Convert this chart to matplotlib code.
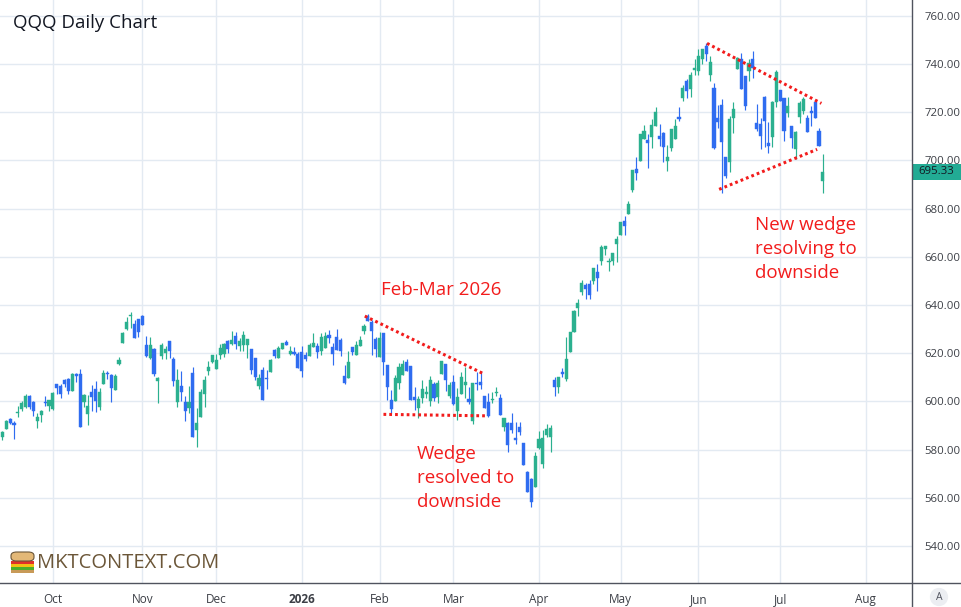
import matplotlib
matplotlib.use('Agg')
import matplotlib.pyplot as plt
import numpy as np
import pandas as pd
from matplotlib.patches import FancyBboxPatch, Rectangle
from matplotlib.lines import Line2D

# QQQ daily candles, Sep 12 2025 .. Jul 17 2026
opens = [585.1, 588.4, 592.8, 591.1, 595.0, 596.9, 597.5, 602.3, 599.7, 592.0,
         594.2, 599.5, 598.2, 596.9, 607.2, 606.3, 608.7, 609.4, 604.5, 611.4,
         611.4, 599.7, 594.9, 604.0, 605.2, 597.8, 607.0, 611.8, 610.9, 604.9,
         615.6, 624.4, 630.1, 635.4, 632.1, 634.2, 635.4, 623.4, 618.2, 621.6,
         608.3, 618.9, 620.0, 625.1, 617.6, 599.6, 606.5, 599.8, 597.1, 611.8,
         588.2, 593.6, 603.0, 612.6, 616.3, 613.5, 619.3, 619.5, 625.1, 624.0,
         627.2, 622.8, 623.6, 623.4, 621.8, 618.1, 606.3, 613.1, 609.7, 612.0,
         621.4, 618.2, 621.9, 624.8, 619.8, 620.1, 619.8, 620.3, 619.4, 619.0,
         622.6, 623.0, 621.1, 622.2, 627.6, 622.6, 626.9, 625.5, 610.6, 609.5,
         622.6, 619.3, 623.0, 629.0, 635.4, 633.0, 626.0, 618.6, 628.4, 615.2,
         600.4, 600.3, 607.6, 611.0, 616.3, 614.8, 601.9, 597.1, 601.2, 602.9,
         600.0, 607.1, 601.9, 611.2, 615.4, 602.2, 608.0, 596.1, 603.0, 606.9,
         601.0, 592.0, 607.7, 608.2, 602.4, 599.7, 600.4, 603.3, 601.4, 589.4,
         591.0, 591.0, 584.8, 589.4, 582.8, 570.6, 567.8, 564.5, 580.7, 573.8,
         586.2, 585.2, 609.0, 605.9, 612.0, 609.4, 620.3, 628.8, 638.9, 645.5,
         648.1, 648.7, 650.1, 653.5, 658.3, 663.3, 657.8, 658.3, 665.4, 669.0,
         674.9, 677.8, 687.6, 696.6, 699.7, 709.0, 708.3, 709.6, 714.5, 710.2,
         711.4, 699.7, 705.2, 708.7, 718.2, 725.8, 733.1, 729.5, 737.7, 737.0,
         742.3, 747.6, 735.4, 730.1, 717.6, 723.2, 701.6, 699.3, 717.6, 737.8,
         742.1, 735.2, 737.0, 742.1, 715.4, 715.2, 726.2, 707.4, 709.6, 724.1,
         729.4, 725.8, 719.5, 714.5, 704.8, 718.2, 720.7, 717.6, 720.3, 724.1,
         712.1, 691.4]
highs = [587.8, 592.1, 593.2, 591.8, 598.2, 600.2, 603.0, 602.8, 600.0, 595.2,
         596.5, 602.3, 600.7, 604.0, 607.2, 607.0, 609.4, 609.8, 611.8, 611.9,
         613.5, 603.2, 602.8, 606.9, 608.6, 605.7, 612.9, 612.7, 611.2, 611.4,
         618.6, 628.8, 635.0, 637.1, 633.8, 634.2, 635.9, 627.1, 626.8, 622.0,
         610.3, 624.3, 622.8, 625.1, 618.5, 613.5, 612.7, 602.3, 606.5, 614.3,
         597.3, 605.2, 610.6, 616.6, 619.3, 619.7, 624.0, 624.4, 625.5, 629.2,
         628.7, 626.2, 629.2, 625.8, 621.8, 618.1, 611.5, 614.1, 613.1, 617.5,
         621.8, 622.8, 624.4, 625.4, 623.0, 622.5, 620.3, 623.0, 620.6, 624.4,
         628.3, 624.1, 628.2, 628.6, 629.7, 624.4, 630.0, 626.2, 615.2, 620.7,
         622.6, 625.2, 627.3, 632.2, 636.1, 633.8, 626.9, 628.8, 628.4, 615.2,
         604.8, 611.0, 615.9, 617.0, 617.5, 614.8, 606.1, 602.2, 608.8, 606.2,
         610.5, 608.0, 608.8, 616.8, 615.4, 608.0, 611.0, 605.5, 612.3, 614.3,
         606.1, 607.5, 612.0, 612.7, 602.4, 603.5, 603.7, 605.9, 603.2, 593.1,
         591.4, 595.2, 591.3, 591.4, 582.8, 571.0, 568.2, 578.9, 587.9, 588.2,
         590.8, 590.0, 610.3, 610.3, 613.8, 626.9, 628.8, 637.9, 642.5, 650.3,
         649.2, 650.3, 655.2, 657.0, 664.8, 664.4, 659.6, 661.7, 668.7, 674.5,
         676.8, 683.0, 695.9, 701.4, 711.0, 714.9, 711.0, 717.2, 722.3, 715.2,
         711.7, 706.6, 713.1, 717.2, 722.3, 731.4, 733.8, 736.6, 742.1, 746.2,
         746.2, 748.7, 743.4, 732.0, 723.2, 725.5, 701.6, 718.6, 724.1, 743.0,
         744.4, 735.2, 742.1, 745.5, 723.4, 717.5, 726.9, 715.8, 724.8, 737.7,
         729.4, 725.8, 726.2, 714.5, 712.4, 724.5, 726.2, 719.0, 722.8, 724.5,
         713.5, 702.5]
lows = [584.1, 588.4, 590.7, 584.5, 593.4, 596.2, 597.2, 597.0, 593.8, 588.8,
        591.3, 597.9, 596.2, 596.5, 603.0, 601.5, 606.0, 603.2, 604.5, 608.0,
        589.2, 597.5, 590.3, 596.1, 595.7, 596.5, 607.0, 609.4, 599.8, 604.9,
        615.0, 624.4, 629.5, 630.6, 626.1, 626.9, 631.9, 618.6, 617.5, 610.6,
        599.2, 617.5, 617.7, 618.2, 606.2, 597.5, 600.0, 591.7, 595.1, 585.0,
        580.9, 593.6, 597.5, 611.0, 616.0, 613.5, 617.7, 618.5, 620.1, 623.2,
        621.8, 621.0, 621.0, 617.8, 611.2, 609.0, 605.1, 600.4, 605.1, 612.0,
        618.2, 618.2, 621.9, 623.6, 619.4, 619.4, 613.9, 610.3, 616.8, 619.0,
        622.6, 618.2, 619.3, 622.2, 624.4, 615.1, 621.4, 619.0, 607.3, 609.5,
        619.3, 619.3, 623.0, 627.9, 633.2, 619.4, 618.6, 618.6, 611.0, 600.7,
        595.2, 600.3, 605.3, 611.0, 612.8, 600.4, 596.5, 593.1, 599.2, 601.5,
        598.1, 600.2, 599.2, 611.2, 604.1, 601.5, 598.6, 592.4, 603.0, 601.6,
        598.9, 590.6, 604.9, 605.0, 597.2, 593.4, 599.3, 602.1, 594.5, 587.6,
        579.0, 586.9, 582.1, 585.9, 573.5, 562.3, 556.2, 564.5, 580.3, 572.4,
        585.2, 578.9, 602.3, 603.6, 610.1, 608.3, 620.3, 628.6, 635.6, 644.1,
        642.6, 642.6, 648.8, 645.9, 656.6, 660.7, 654.2, 656.8, 657.9, 669.0,
        669.2, 677.8, 686.9, 692.0, 699.7, 709.0, 696.8, 705.2, 714.5, 705.8,
        699.3, 695.6, 703.8, 708.7, 716.3, 724.5, 725.8, 726.5, 735.4, 735.6,
        740.0, 741.1, 732.8, 704.8, 713.5, 686.4, 692.8, 695.2, 711.4, 737.8,
        729.7, 721.1, 732.8, 734.2, 712.4, 704.8, 705.5, 703.0, 705.5, 722.1,
        724.8, 708.1, 718.2, 705.2, 700.7, 715.4, 719.3, 711.7, 714.5, 717.5,
        705.9, 686.4]
closes = [587.1, 591.8, 590.9, 590.0, 595.4, 599.4, 602.2, 597.8, 595.8, 593.6,
          596.1, 599.2, 600.7, 603.6, 605.5, 602.9, 607.3, 604.5, 611.4, 610.6,
          589.2, 602.5, 598.2, 601.9, 600.0, 604.0, 611.8, 611.4, 605.4, 610.6,
          617.2, 628.4, 633.0, 635.9, 626.1, 628.8, 631.9, 618.9, 623.4, 611.4,
          609.9, 623.3, 621.8, 621.1, 608.3, 609.0, 603.7, 596.1, 599.8, 585.4,
          590.9, 603.8, 609.0, 614.3, 619.3, 617.2, 622.2, 623.9, 621.8, 625.4,
          624.0, 625.1, 627.7, 625.8, 613.2, 610.1, 609.7, 600.4, 609.1, 617.1,
          619.0, 622.1, 624.3, 623.6, 621.0, 619.8, 613.9, 612.8, 617.7, 623.3,
          624.3, 620.3, 626.8, 627.3, 626.1, 619.7, 621.4, 621.0, 607.8, 616.4,
          620.6, 623.2, 625.6, 631.3, 633.2, 629.4, 621.9, 626.2, 616.5, 605.8,
          596.9, 609.6, 614.3, 615.6, 612.8, 600.4, 600.4, 600.8, 605.1, 604.0,
          608.9, 601.6, 607.8, 616.8, 608.9, 606.6, 598.9, 601.8, 610.1, 608.2,
          599.9, 607.5, 607.3, 606.7, 597.2, 593.8, 600.7, 603.6, 594.5, 593.1,
          581.8, 588.0, 583.9, 587.3, 573.5, 562.3, 558.2, 577.5, 584.4, 584.8,
          588.6, 589.0, 605.9, 610.1, 611.4, 617.5, 628.8, 637.5, 640.8, 649.1,
          646.8, 644.3, 655.2, 651.3, 663.9, 664.4, 658.0, 661.4, 667.6, 674.5,
          672.8, 681.8, 695.9, 694.8, 711.0, 712.1, 707.2, 714.8, 720.0, 708.8,
          705.5, 701.6, 713.1, 714.5, 717.2, 730.1, 729.0, 735.6, 738.5, 743.2,
          746.2, 744.1, 740.7, 705.2, 715.8, 707.6, 693.4, 717.2, 721.4, 742.5,
          729.7, 722.5, 740.4, 738.3, 713.1, 710.3, 716.3, 706.2, 724.1, 736.6,
          724.8, 712.4, 722.8, 709.2, 711.7, 723.7, 725.5, 711.7, 719.9, 717.5,
          705.9, 695.33]

holidays = ['2025-11-27', '2025-12-25', '2026-01-01', '2026-01-19', '2026-02-16',
            '2026-04-03', '2026-05-25', '2026-06-19', '2026-07-03']
month_labels = ['Oct', 'Nov', 'Dec', '2026', 'Feb', 'Mar', 'Apr', 'May', 'Jun', 'Jul', 'Aug']
price_ticks = [540, 560, 580, 600, 620, 640, 660, 680, 700, 720, 740, 760]

# wedge trendlines: (candle index, price)
feb_top_x, feb_top_y = [93.2, 123.8], [635.4, 611.4]
feb_bot_x, feb_bot_y = [98.0, 124.1], [594.6, 594.0]
jun_top_x, jun_top_y = [181.2, 210.6], [748.6, 723.7]
jun_bot_x, jun_bot_y = [184.3, 209.5], [688.0, 704.6]

UP = '#2bb08f'
DOWN = '#2f6cf0'
RED = '#f21c1c'
GRID = '#e3eaf2'
TXT = '#3c3f46'
FONT = 'Open Sans'

days = pd.bdate_range('2025-09-12', '2026-09-30')
days = days[~days.isin(pd.to_datetime(holidays))]
month_pos = [i for i in range(1, len(days)) if days[i].month != days[i - 1].month][:len(month_labels)]

o = np.array(opens); h = np.array(highs); l = np.array(lows); c = np.array(closes)
idx = np.arange(len(c))
cols = np.where(c >= o, UP, DOWN)

fig = plt.figure(figsize=(9.61, 6.07), dpi=100)
W, H = 961, 607
ax = fig.add_axes([0, 24 / H, 912 / W, 583 / H])

ax.set_xlim(-0.6, 233.9)
ax.set_ylim(524.6, 766.6)

for p in price_ticks:
    ax.axhline(p, color=GRID, lw=1, zorder=0)
for m in month_pos:
    ax.axvline(m, color=GRID, lw=1, zorder=0)

ax.vlines(idx, l, h, colors=cols, lw=0.85, zorder=2)
body = np.maximum(np.abs(c - o), 0.5)
ax.bar(idx, body, bottom=np.minimum(o, c), width=0.8, color=cols,
       edgecolor=cols, lw=0.3, zorder=3)

dot = dict(color=RED, lw=2.2, linestyle=(0, (0.9, 1.0)), zorder=4)
ax.plot(feb_top_x, feb_top_y, **dot)
ax.plot(feb_bot_x, feb_bot_y, **dot)
ax.plot(jun_top_x, jun_top_y, **dot)
ax.plot(jun_bot_x, jun_bot_y, **dot)

ax.text(97.3, 646.2, 'Feb-Mar 2026', color=RED, fontsize=13.5, family=FONT,
        ha='left', va='center')
ax.text(106.6, 568.2, 'Wedge\nresolved to\ndownside', color=RED, fontsize=13.5,
        family=FONT, ha='left', va='center', linespacing=1.45)
ax.text(193.5, 663.2, 'New wedge\nresolving to\ndownside', color=RED, fontsize=13.5,
        family=FONT, ha='left', va='center', linespacing=1.45)

# axes styling
for s in ['top', 'left', 'right', 'bottom']:
    ax.spines[s].set_visible(False)
ax.yaxis.tick_right()
ax.set_yticks(price_ticks)
ax.set_yticklabels([f'{p:.2f}' for p in price_ticks], family=FONT, fontsize=8.2, color=TXT)
ax.tick_params(axis='y', length=0, pad=9)
ax.set_xticks(month_pos)
ax.set_xticklabels(month_labels, family=FONT, fontsize=8.5, color=TXT)
ax.tick_params(axis='x', length=0, pad=7)
for t in ax.get_xticklabels():
    if t.get_text() == '2026':
        t.set_fontweight('bold')

# last price tag spanning the price scale
ax.add_patch(Rectangle((1.0, closes[-1] - 3.3), 49 / 912, 6.6,
                       transform=ax.get_yaxis_transform(), fc='#22ab94', ec='none',
                       clip_on=False, zorder=10))
ax.text(1.0 + 6 / 912, closes[-1], f'{closes[-1]:.2f}', transform=ax.get_yaxis_transform(),
        ha='left', va='center', family=FONT, fontsize=8.2, color='#131722', zorder=11,
        clip_on=False)

# frame lines of the price and time scales
fig.add_artist(Line2D([912 / W, 912 / W], [0, 1], color='#50535e', lw=1))
fig.add_artist(Line2D([0, 1], [24 / H, 24 / H], color='#50535e', lw=1))

# auto-scale button
fig.text(939 / W, 1 - 597 / H, 'A', ha='center', va='center', fontsize=7.5,
         color='#50535e', family=FONT,
         bbox=dict(boxstyle='circle,pad=0.35', fc='#eceef2', ec='none'))

fig.text(13 / W, 1 - 23 / H, 'QQQ Daily Chart', fontsize=13.5, family=FONT,
         color='#131722', ha='left', va='center')

# logo
tx = lambda px: px / W
ty = lambda py: 1 - py / H
layers = [(570, 573, '#c89a58'), (567, 570, '#4caf2a'), (564, 567, '#f2c014'),
          (561, 564, '#e0302a')]
for y0, y1, col in layers:
    fig.add_artist(Rectangle((tx(11), ty(y1)), tx(34) - tx(11), ty(y0) - ty(y1),
                             transform=fig.transFigure, fc=col, ec='none'))
fig.add_artist(FancyBboxPatch((tx(11), ty(561)), tx(34) - tx(11), ty(552) - ty(561),
                              boxstyle='round,pad=0,rounding_size=0.006',
                              transform=fig.transFigure, fc='#e3b877', ec='#6b5638', lw=0.8))
fig.text(tx(37), ty(563), 'MKTCONTEXT.COM', fontsize=14.5, family=FONT,
         color='#6b5638', ha='left', va='center')

fig.savefig('out.png', dpi=100)
